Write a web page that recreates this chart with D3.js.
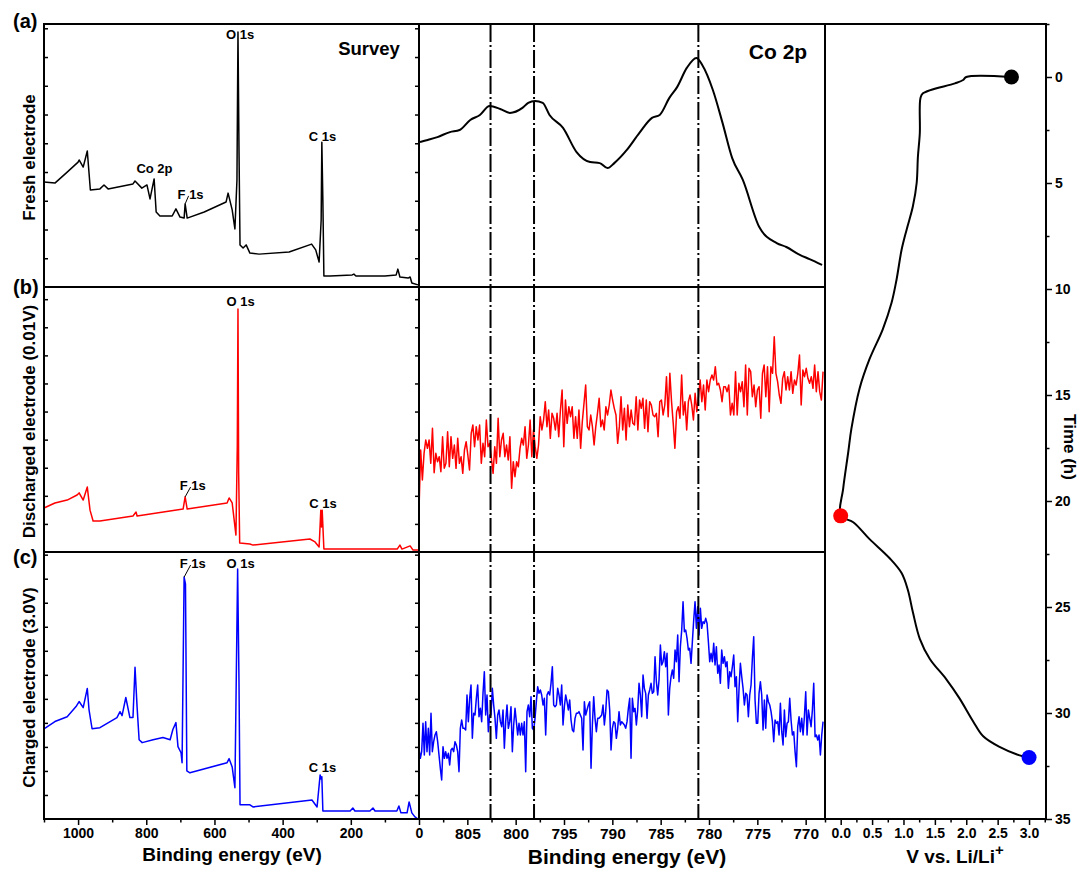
<!DOCTYPE html>
<html>
<head>
<meta charset="utf-8">
<script src="https://cdn.jsdelivr.net/npm/d3@7"></script>
<style>
  body { margin: 0; background: #fff; }
  svg text { font-family: "Liberation Sans", Arial, sans-serif; font-weight: bold; fill: #000; }
</style>
</head>
<body>
<div id="chart"></div>
<script>
// ---------------- data ----------------
// survey spectra: [binding energy (eV), intensity (a.u.)]
const surveyFresh = [[1100,39.9],[1068,39.5],[1032,43.7],[1000,47.5],[997,48.3],[985,45.6],[973,51.7],[964,36.9],[936,37.3],[924,38.8],[912,37.3],[839,39.2],[833,40.3],[813,37.6],[798,38.8],[789,33.5],[777,41.1],[771,28.5],[760,27.0],[724,27.0],[713,29.7],[701,26.6],[689,26.2],[686,31.6],[680,26.2],[630,28.5],[566,32.3],[560,35.7],[548,29.3],[540,22.1],[534,40.7],[531,97],[528,52],[525,16.0],[516,14.8],[507,16.0],[496,12.9],[469,12.5],[381,13.3],[315,16.3],[303,14.1],[293,9.5],[287,25.5],[285,55],[282,33],[279,4.2],[261,4.2],[196,4.6],[191,4.9],[185,4.2],[100,4.2],[67,4.6],[62,6.8],[56,3.8],[32,3.4],[26,3.8],[21,1.5],[3,0.8]];

const surveyDischarged = [[1100,16.6],[1068,18.5],[1032,19.6],[1003,21.5],[997,22.3],[985,19.6],[973,24.5],[965,15.8],[956,11.7],[936,11.7],[839,13.6],[830,15.1],[827,13.6],[692,16.2],[686,20.8],[680,16.2],[563,18.5],[557,20.4],[548,18.5],[537,6.4],[533,40],[531,91.7],[529,30],[526,3.4],[496,3.0],[487,2.6],[320,4.9],[305,3.8],[293,1.9],[288,15.8],[286,9.4],[284,15.8],[279,1.1],[64,1.1],[56,2.6],[50,1.1],[26,2.3],[18,0.8],[3,0.8]];

const surveyCharged = [[1100,33.8],[1068,36.5],[1032,38.3],[1006,42.1],[997,44.0],[985,41.7],[973,48.9],[968,41.0],[959,33.8],[936,34.2],[886,38.0],[877,40.2],[871,38.7],[860,45.5],[848,38.0],[839,38.0],[833,56.8],[827,42.1],[821,29.7],[812,28.6],[780,29.7],[751,30.5],[730,29.7],[722,33.5],[713,36.1],[707,27.1],[698,24.8],[695,21.1],[689,90.6],[685,88],[681,18],[672,17.3],[563,21.1],[557,22.6],[548,19.5],[540,11.7],[532,93.6],[528,51],[525,5.3],[496,5.3],[487,4.5],[314,7.1],[299,4.5],[290,16.5],[287,15],[285,15.8],[282,3.0],[202,3.0],[194,4.1],[188,3.0],[144,3.0],[135,4.1],[129,3.0],[65,3.0],[59,4.9],[53,2.3],[35,2.3],[29,6.4],[21,2.3],[12,0.8],[3,0]];

// Co 2p, fresh electrode: [binding energy (eV), intensity (a.u.)]
const coFresh = [[809.9,55.1],[809.1,55.9],[808.1,57.0],[806.8,58.9],[805.8,59.7],[804.7,63.5],[803.7,65.4],[802.7,68.8],[801.6,67.7],[800.6,66.2],[799.3,68.1],[798.7,70.0],[798.0,70.7],[797.2,70.0],[796.5,65.4],[795.1,60.5],[793.7,51.3],[792.3,47.5],[791.3,47.1],[790.5,45.2],[789.8,47.1],[788.5,52.1],[787.2,58.6],[785.9,64.3],[785.1,65.4],[784.1,71.9],[783.3,76.0],[782.3,83.3],[781.3,87.1],[780.7,84.4],[779.6,74.9],[778.6,62.4],[777.6,49.0],[776.5,40.7],[774.8,22.8],[773.0,16.7],[772.0,15.2],[770.6,12.2],[769.6,10.6],[768.3,8.4]];

// Co 2p, discharged / charged: counts on an evenly spaced energy grid 810 -> 768.2 eV
const coGrid = [810, 768.2];
const coDischarged = [160,340,250,330,370,345,370,300,405,272,330,305,320,275,380,285,300,395,290,380,315,355,285,375,300,320,270,340,365,325,280,390,415,350,410,370,415,300,360,320,430,350,360,315,270,350,300,435,320,370,390,320,355,310,380,225,305,260,305,290,345,375,355,410,315,355,430,320,400,350,315,355,440,400,430,485,410,460,375,450,435,400,450,380,460,520,350,490,420,470,440,470,375,440,375,460,345,425,480,535,410,400,445,410,355,410,450,495,410,430,400,470,445,475,520,490,465,445,360,
  410,500,400,465,370,475,410,460,420,415,500,400,490,465,495,405,490,395,485,475,445,440,450,380,485,490,445,475,560,440,570,485,420,345,455,470,435,565,445,485,400,485,505,475,430,510,455,500,550,485,535,460,550,515,550,565,550,590,535,540,520,485,530,530,515,535,445,480,445,575,445,540,515,545,470,595,445,585,575,500,535,470,520,530,435,570,595,500,590,455,590,570,680,570,545,505,480,555,575,520,560,520,575,510,550,535,570,625,475,580,560,585,555,540,560,525,595,515,575,515,490,575];

const coCharged = [240,210,230,315,220,320,230,300,220,345,230,260,280,290,260,220,180,145,245,210,230,210,225,190,235,240,230,260,250,230,170,300,325,300,300,295,400,320,390,430,270,345,340,390,430,335,360,320,405,470,340,400,290,340,340,420,370,330,270,340,355,320,305,355,240,320,370,300,320,365,230,310,360,320,280,315,280,315,280,320,170,350,370,335,395,300,295,330,380,425,405,415,400,370,390,280,400,410,400,435,485,370,365,370,420,400,370,430,310,365,400,380,355,385,325,295,290,330,345,345,350,340,330,235,380,340,355,370,380,180,310,395,330,290,330,330,335,340,370,310,350,415,410,355,235,300,320,315,270,300,350,310,320,315,
  310,300,320,360,390,210,390,350,360,310,355,435,400,335,460,420,405,330,400,415,435,405,410,515,440,400,445,550,490,500,530,485,525,340,420,455,475,450,535,500,580,440,545,595,680,590,595,570,535,540,495,560,625,680,600,665,580,660,600,620,615,630,615,560,500,525,500,555,490,545,465,490,435,535,495,515,485,500,420,470,455,485,520,425,455,320,420,495,455,420,370,405,400,335,400,430,510,575,385,315,315,405,440,400,295,385,300,400,380,370,350,320,260,325,315,320,280,375,290,250,355,275,315,320,390,325,280,290,230,185,305,335,290,330,280,335,410,280,355,330,305,355,435,275,280,265,280,220,280,320];

// reference peak positions (dash-dot lines), eV
const coPeakLines = [802.6, 798.1, 781.1];

// voltage profile: [V vs Li/Li+, time (h)]
const voltageProfile = [[2.72,0],[2.0,0],[1.95,0.14],[1.82,0.3],[1.31,0.77],[1.27,1.0],[1.26,2.65],[1.23,3.75],[1.21,5.0],[1.15,6.1],[1.05,7.2],[0.97,8.15],[0.89,9.55],[0.81,10.65],[0.67,11.9],[0.46,13.3],[0.30,14.7],[0.17,16.6],[0.12,17.7],[0.04,19.4],[0.0,20.7],[0.2,21.0],[0.46,21.8],[0.78,22.7],[0.97,23.4],[1.07,24.2],[1.15,25.25],[1.26,26.5],[1.42,27.45],[1.68,28.4],[1.89,29.3],[2.11,30.4],[2.27,31.1],[2.53,31.6],[2.85,32.0],[3.0,32.1]];
const stateVoltages = [2.72, 0.0, 3.0];
const stateTimes = [0, 20.7, 32.1];
const stateColors = ['#000000', '#ff0000', '#0000ff'];

// tick values
const surveyTicks = [1000, 800, 600, 400, 200, 0];
const surveyMinor = [1100, 900, 700, 500, 300, 100];
const coTicks = [805, 800, 795, 790, 785, 780, 775, 770];
const coMinor = [807.5, 802.5, 797.5, 792.5, 787.5, 782.5, 777.5, 772.5];
const voltTicks = [0, 0.5, 1.0, 1.5, 2.0, 2.5, 3.0];
const voltMinor = [-0.25, 0.25, 0.75, 1.25, 1.75, 2.25, 2.75, 3.25];
const timeTicks = [0, 5, 10, 15, 20, 25, 30, 35];
const timeMinor = [-2.5, 2.5, 7.5, 12.5, 17.5, 22.5, 27.5, 32.5];

// ---------------- layout ----------------
const config = {
  width: 1081, height: 872,
  surveyX: [44, 419], coX: [419, 825], voltX: [825, 1046],
  rowY: [[24, 287], [287, 552], [552, 819]],
  font: '"Liberation Sans", Arial, sans-serif'
};

const coPoints = (vals) => vals.map((v, i) =>
  [coGrid[0] + (coGrid[1] - coGrid[0]) * i / (vals.length - 1), v]);

const rows = [
  { tag: '(a)', tagY: 28, title: 'Fresh electrode', color: '#000', survey: surveyFresh,
    co: coFresh, coDomain: [0, 100], coWidth: 2, coCurve: d3.curveMonotoneX, tickStep: 10.93,
    notes: [
      { t: 'O 1s', be: 525, i: 94.3 }, { t: 'Co 2p', be: 776, i: 43.3 },
      { t: 'F 1s', be: 670, i: 33.5, lead: [686, 31.6] }, { t: 'C 1s', be: 283, i: 55.5 }
    ] },
  { tag: '(b)', tagY: 294, title: 'Discharged electrode (0.01V)', color: '#ff0000', survey: surveyDischarged,
    co: coPoints(coDischarged), coDomain: [34, 829], coWidth: 1.5, coCurve: d3.curveLinear, tickStep: 10.6,
    notes: [
      { t: 'O 1s', be: 523.5, i: 92.8 }, { t: 'F 1s', be: 664, i: 23.4, lead: [686, 20.8] },
      { t: 'C 1s', be: 281.6, i: 16.6 }
    ] },
  { tag: '(c)', tagY: 564, title: 'Charged electrode (3.0V)', color: '#0000ff', survey: surveyCharged,
    co: coPoints(coCharged), coDomain: [28, 829], coWidth: 1.5, coCurve: d3.curveLinear, tickStep: 9.0,
    notes: [
      { t: 'F 1s', be: 664, i: 94, lead: [689, 90.6] }, { t: 'O 1s', be: 523.5, i: 94 },
      { t: 'C 1s', be: 283, i: 17.7 }
    ] }
];

// ---------------- scales ----------------
const xSurvey = d3.scaleLinear().domain([1100, 0]).range(config.surveyX);
const xCo = d3.scaleLinear().domain([810, 768]).range(config.coX);
const xVolt = d3.scaleLinear().domain([-0.25, 3.27]).range(config.voltX);
const yTime = d3.scaleLinear().domain([-2.5, 35]).range([24, 819]);

const svg = d3.select('#chart').append('svg')
    .attr('width', config.width)
    .attr('height', config.height);

function styleAxis(g, size) {
  g.select('.domain').remove();
  g.selectAll('line').attr('stroke', '#000').attr('stroke-width', 1.5);
  g.selectAll('text')
      .attr('font-family', config.font)
      .attr('font-weight', 'bold')
      .attr('font-size', size)
      .attr('fill', '#000');
}

// ---------------- rows (survey + Co 2p) ----------------
rows.forEach((row, k) => {
  const [top, bottom] = config.rowY[k];
  const ySurvey = d3.scaleLinear().domain([0, 100]).range([bottom, top]);
  const yCo = d3.scaleLinear().domain(row.coDomain).range([bottom, top]);

  // survey spectrum
  svg.append('path')
      .datum(row.survey)
      .attr('fill', 'none')
      .attr('stroke', row.color)
      .attr('stroke-width', 1.5)
      .attr('stroke-linejoin', 'round')
      .attr('d', d3.line().x(d => xSurvey(d[0])).y(d => ySurvey(d[1])));

  // Co 2p spectrum
  svg.append('path')
      .datum(row.co)
      .attr('fill', 'none')
      .attr('stroke', row.color)
      .attr('stroke-width', row.coWidth)
      .attr('stroke-linejoin', 'round')
      .attr('d', d3.line().curve(row.coCurve).x(d => xCo(d[0])).y(d => yCo(d[1])));

  // inward intensity ticks (no labels) on both sides of the survey frame
  const yt = d3.range(row.tickStep, 100, row.tickStep);
  const lAx = svg.append('g').attr('transform', `translate(${config.surveyX[0]},0)`)
      .call(d3.axisRight(ySurvey).tickValues(yt).tickSize(4).tickFormat(''));
  styleAxis(lAx, 0);
  const rAx = svg.append('g').attr('transform', `translate(${config.surveyX[1]},0)`)
      .call(d3.axisLeft(ySurvey).tickValues(yt).tickSize(4).tickFormat(''));
  styleAxis(rAx, 0);

  // peak annotations
  row.notes.forEach(n => {
    const tx = xSurvey(n.be), ty = ySurvey(n.i);
    svg.append('text')
        .attr('x', tx).attr('y', ty)
        .attr('text-anchor', 'middle')
        .attr('font-size', 13)
        .text(n.t);
    if (n.lead) {
      svg.append('line')
          .attr('x1', xSurvey(n.lead[0])).attr('y1', ySurvey(n.lead[1]))
          .attr('x2', tx - 2).attr('y2', ty - 3)
          .attr('stroke', '#000').attr('stroke-width', 1);
    }
  });

  // frames
  svg.append('rect')
      .attr('x', config.surveyX[0]).attr('y', top)
      .attr('width', config.surveyX[1] - config.surveyX[0]).attr('height', bottom - top)
      .attr('fill', 'none').attr('stroke', '#000').attr('stroke-width', 2);
  svg.append('rect')
      .attr('x', config.coX[0]).attr('y', top)
      .attr('width', config.coX[1] - config.coX[0]).attr('height', bottom - top)
      .attr('fill', 'none').attr('stroke', '#000').attr('stroke-width', 2);

  // panel tag and y title
  svg.append('text')
      .attr('x', 13).attr('y', row.tagY)
      .attr('font-size', 20)
      .text(row.tag);
  svg.append('text')
      .attr('transform', `translate(35,${(top + bottom) / 2 + 2}) rotate(-90)`)
      .attr('text-anchor', 'middle')
      .attr('font-size', 17)
      .text(row.title);
});

// dash-dot reference lines across the Co 2p column
svg.selectAll('.peak-line')
  .data(coPeakLines)
  .join('line')
    .attr('class', 'peak-line')
    .attr('x1', d => xCo(d)).attr('x2', d => xCo(d))
    .attr('y1', config.rowY[0][0]).attr('y2', config.rowY[2][1])
    .attr('stroke', '#000')
    .attr('stroke-width', 2)
    .attr('stroke-dasharray', '18,3,2,3');

// panel titles
svg.append('text')
    .attr('x', 369).attr('y', 55)
    .attr('text-anchor', 'middle')
    .attr('font-size', 18.5)
    .text('Survey');
svg.append('text')
    .attr('x', 778).attr('y', 59)
    .attr('text-anchor', 'middle')
    .attr('font-size', 21)
    .text('Co 2p');

// bottom axes
const axisY = config.rowY[2][1];
const sAx = svg.append('g').attr('transform', `translate(0,${axisY})`)
    .call(d3.axisBottom(xSurvey).tickValues(surveyTicks).tickSize(6).tickPadding(3).tickFormat(d3.format('d')));
styleAxis(sAx, 14);
styleAxis(svg.append('g').attr('transform', `translate(0,${axisY})`)
    .call(d3.axisBottom(xSurvey).tickValues(surveyMinor).tickSize(3.5).tickFormat('')), 0);

const cAx = svg.append('g').attr('transform', `translate(0,${axisY})`)
    .call(d3.axisBottom(xCo).tickValues(coTicks).tickSize(6).tickPadding(3).tickFormat(d3.format('d')));
styleAxis(cAx, 15.5);
styleAxis(svg.append('g').attr('transform', `translate(0,${axisY})`)
    .call(d3.axisBottom(xCo).tickValues(coMinor).tickSize(3.5).tickFormat('')), 0);

const vAx = svg.append('g').attr('transform', `translate(0,${axisY})`)
    .call(d3.axisBottom(xVolt).tickValues(voltTicks).tickSize(6).tickPadding(3).tickFormat(d3.format('.1f')));
styleAxis(vAx, 14);
styleAxis(svg.append('g').attr('transform', `translate(0,${axisY})`)
    .call(d3.axisBottom(xVolt).tickValues(voltMinor).tickSize(3.5).tickFormat('')), 0);

// right time axis
const tAx = svg.append('g').attr('transform', `translate(${config.voltX[1]},0)`)
    .call(d3.axisRight(yTime).tickValues(timeTicks).tickSize(6).tickPadding(3).tickFormat(d3.format('d')));
styleAxis(tAx, 14);
styleAxis(svg.append('g').attr('transform', `translate(${config.voltX[1]},0)`)
    .call(d3.axisRight(yTime).tickValues(timeMinor).tickSize(3.5).tickFormat('')), 0);

// voltage profile
svg.append('path')
    .datum(voltageProfile)
    .attr('fill', 'none')
    .attr('stroke', '#000')
    .attr('stroke-width', 2)
    .attr('d', d3.line().curve(d3.curveCatmullRom.alpha(0.5)).x(d => xVolt(d[0])).y(d => yTime(d[1])));

svg.selectAll('.state')
  .data(stateVoltages)
  .join('circle')
    .attr('class', 'state')
    .attr('cx', d => xVolt(d))
    .attr('cy', (d, i) => yTime(stateTimes[i]))
    .attr('r', 7.5)
    .attr('fill', (d, i) => stateColors[i]);

svg.append('rect')
    .attr('x', config.voltX[0]).attr('y', config.rowY[0][0])
    .attr('width', config.voltX[1] - config.voltX[0]).attr('height', axisY - config.rowY[0][0])
    .attr('fill', 'none').attr('stroke', '#000').attr('stroke-width', 2);

// axis titles
svg.append('text')
    .attr('x', 232).attr('y', 861)
    .attr('text-anchor', 'middle')
    .attr('font-size', 19)
    .text('Binding energy (eV)');
svg.append('text')
    .attr('x', 627).attr('y', 864)
    .attr('text-anchor', 'middle')
    .attr('font-size', 21)
    .text('Binding energy (eV)');
const vt = svg.append('text')
    .attr('x', 955).attr('y', 863)
    .attr('text-anchor', 'middle')
    .attr('font-size', 19);
vt.append('tspan').text('V vs. Li/Li');
vt.append('tspan').attr('dy', -8).attr('font-size', 15).text('+');
svg.append('text')
    .attr('transform', 'translate(1064,447) rotate(90)')
    .attr('text-anchor', 'middle')
    .attr('font-size', 17)
    .text('Time (h)');
</script>
</body>
</html>
